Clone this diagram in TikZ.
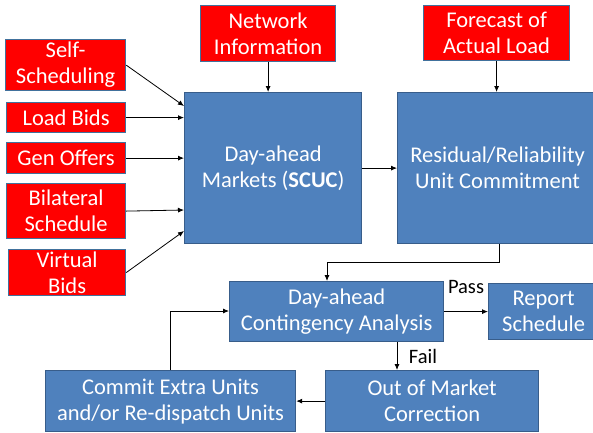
\documentclass[tikz,border=0pt]{standalone}
\usepackage{fontspec}
\setmainfont{Carlito}
\usetikzlibrary{arrows.meta}
\definecolor{redfill}{RGB}{255,0,0}
\definecolor{redline}{RGB}{65,113,156}
\definecolor{bluefill}{RGB}{79,129,189}
\definecolor{blueline}{RGB}{56,93,138}
\begin{document}
\begin{tikzpicture}[x=1pt,y=-1pt,
  box/.style={draw, line width=1.2pt, inner sep=0pt, align=center, text=white,
    font=\fontsize{22.5}{26}\selectfont, anchor=north west},
  rbox/.style={box, fill=redfill, draw=redline},
  bbox/.style={box, fill=bluefill, draw=blueline},
  conn/.style={-{Latex[length=6pt,width=5pt]}, line width=0.8pt},
  lbl/.style={font=\fontsize{20.5}{24}\selectfont, text=black}]
\useasboundingbox (0,0) rectangle (593,432);
% red inputs
\node[rbox, minimum width=120, minimum height=51] (ss) at (5,39) {Self-\\Scheduling};
\node[rbox, minimum width=119, minimum height=30] (lb) at (6,102) {Load Bids};
\node[rbox, minimum width=119, minimum height=31] (go) at (6,142) {Gen Offers};
\node[rbox, minimum width=119, minimum height=55] (bs) at (6,183) {Bilateral\\Schedule};
\node[rbox, minimum width=117, minimum height=46] (vb) at (8,249) {Virtual\\Bids};
\node[rbox, minimum width=135, minimum height=56] (ni) at (200,5) {Network\\Information};
\node[rbox, minimum width=146, minimum height=55] (fc) at (423,5) {Forecast of\\Actual Load};
% blue
\node[bbox, minimum width=177, minimum height=151] (da) at (184,92) {Day-ahead\\Markets (\textbf{SCUC})};
\node[bbox, minimum width=200, minimum height=151] (ru) at (397,92) {Residual/Reliability\\Unit Commitment};
\node[bbox, minimum width=214, minimum height=60] (ca) at (229,281) {Day-ahead\\Contingency Analysis};
\node[bbox, minimum width=110, minimum height=56] (rs) at (488,283) {Report\\Schedule};
\node[bbox, minimum width=213, minimum height=61] (om) at (325,370) {Out of Market\\Correction};
\node[bbox, minimum width=250, minimum height=61] (ce) at (45,370) {Commit Extra Units\\and/or Re-dispatch Units};
% connectors
\draw[conn] (ss.east) -- (da.north west |- 0,106);
\draw[conn] (lb.east) -- (da.west |- lb.east);
\draw[conn] (go.east) -- (da.west |- go.east);
\draw[conn] (bs.east) -- (da.west |- 0,210);
\draw[conn] (vb.east) -- (da.west |- 0,231);
\draw[conn] (ni.south) -- (da.north -| ni.south);
\draw[conn] (fc.south) -- (ru.north -| fc.south);
\draw[conn] (da.east) -- (ru.west);
\coordinate (c1) at (499,262);
\draw[conn] (ru.south -| c1) -- (c1) -- (327,262) -- (ca.north -| 327,0);
\draw[conn] (ca.east) -- (rs.west |- ca.east);
\node[lbl] (pass) at (466,287) {Pass};
\draw[conn] (ca.south -| 397,0) -- (om.north -| 397,0);
\node[lbl] (fail) at (423,356) {Fail};
\draw[conn] (om.west) -- (ce.east);
\coordinate (c2) at (170,311);
\draw[conn] (ce.north -| c2) -- (c2) -- (ca.west |- c2);
\end{tikzpicture}
\end{document}
